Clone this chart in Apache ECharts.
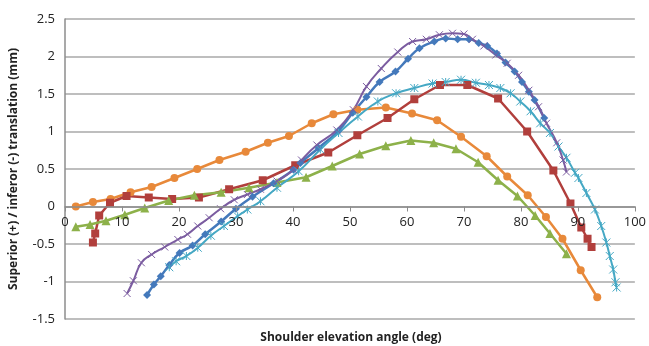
<!DOCTYPE html>
<html>
<head>
<meta charset="utf-8">
<script src="https://cdn.jsdelivr.net/npm/echarts@6/dist/echarts.min.js"></script>
<style>
  html, body { margin: 0; padding: 0; background: #fff; }
  #chart { width: 649px; height: 346px; }
</style>
</head>
<body>
<div id="chart"></div>
<script>
// shoulder elevation angle (deg) / translation (mm)
const orangePts = [[1.9,0],[4.9,0.06],[8.0,0.1],[11.5,0.19],[15.2,0.26],[19.2,0.38],[23.2,0.5],[27.1,0.62],[31.7,0.73],[35.6,0.85],[39.3,0.94],[43.3,1.11],[47.1,1.23],[51.3,1.29],[56.3,1.32],[60.9,1.24],[65.3,1.15],[69.5,0.93],[74.0,0.67],[77.6,0.40],[81.2,0.15],[84.4,-0.14],[87.3,-0.43],[90.5,-0.85],[93.4,-1.21]];
const redPts = [[4.9,-0.48],[5.3,-0.36],[6.0,-0.12],[7.9,0.05],[10.8,0.14],[14.7,0.12],[18.8,0.10],[23.5,0.12],[28.8,0.23],[34.7,0.35],[40.4,0.55],[46.2,0.72],[51.3,0.95],[56.6,1.18],[61.3,1.43],[65.8,1.62],[70.6,1.62],[76.0,1.44],[81.1,1.0],[85.7,0.48],[88.7,0.04],[90.6,-0.28],[91.7,-0.43],[92.4,-0.54]];
const greenPts = [[1.9,-0.27],[4.4,-0.24],[7.2,-0.19],[10.5,-0.11],[14.0,-0.02],[18.2,0.08],[22.7,0.15],[27.4,0.19],[32.3,0.25],[37.2,0.32],[42.3,0.39],[46.9,0.54],[51.7,0.70],[56.3,0.81],[60.7,0.88],[64.7,0.85],[68.6,0.77],[72.5,0.59],[76.0,0.35],[79.4,0.14],[82.5,-0.12],[85.1,-0.36],[88.0,-0.63]];
const purplePts = [[10.9,-1.16],[12.0,-0.99],[13.4,-0.75],[15.2,-0.64],[17.5,-0.54],[19.8,-0.44],[21.5,-0.37],[23.3,-0.26],[25.3,-0.15],[27.3,-0.03],[29.7,0.09],[32.0,0.16],[34.3,0.23],[37.2,0.34],[40.1,0.49],[41.5,0.62],[44.2,0.82],[47.7,1.02],[50.6,1.29],[52.9,1.6],[55.5,1.84],[58.4,2.06],[61.0,2.2],[63.4,2.23],[65.7,2.29],[68.0,2.31],[70.0,2.30],[71.5,2.23],[73.5,2.14],[75.6,2.02],[77.6,1.91],[79.6,1.75],[81.4,1.55],[83.1,1.33],[84.5,1.11],[86.3,0.85],[87.4,0.62],[88.0,0.46]];
const bluePts = [[14.4,-1.18],[15.6,-1.04],[16.8,-0.93],[18.3,-0.78],[20.1,-0.62],[22.4,-0.52],[24.6,-0.37],[27.4,-0.2],[30.0,-0.03],[32.9,0.13],[36.6,0.31],[40.1,0.49],[41.3,0.58],[44.5,0.78],[48.0,1.01],[50.5,1.25],[52.9,1.46],[55.2,1.66],[58.0,1.8],[60.2,1.97],[62.2,2.11],[64.8,2.2],[66.8,2.24],[68.9,2.23],[70.9,2.23],[72.6,2.18],[74.1,2.14],[75.8,2.04],[77.3,1.92],[78.9,1.80],[80.2,1.66],[81.4,1.53],[82.4,1.42],[84.1,1.18]];
const cyanPts = [[18.3,-0.81],[19.5,-0.73],[21.3,-0.66],[23.3,-0.55],[25.6,-0.39],[27.9,-0.26],[30.3,-0.13],[32.0,-0.04],[34.3,0.07],[37.2,0.25],[41.0,0.47],[44.8,0.76],[48.0,0.98],[51.4,1.2],[54.9,1.4],[58.1,1.51],[61.3,1.58],[64.5,1.64],[66.8,1.66],[69.5,1.69],[72.1,1.65],[74.4,1.62],[76.4,1.58],[78.2,1.51],[79.9,1.40],[81.7,1.27],[83.4,1.11],[85.1,0.98],[86.6,0.80],[88.0,0.65],[89.5,0.45],[90.1,0.38],[91.5,0.18],[93.0,-0.04],[94.1,-0.26],[95.0,-0.48],[95.6,-0.66],[96.2,-0.84],[96.6,-1.01],[96.8,-1.08]];

const xTicks = { min: 0, max: 100, interval: 10 };
const yTicks = { min: -1.5, max: 2.5, interval: 0.5 };

const FONT = 'Open Sans';
const GRID = { left: 63, right: 12, top: 19, bottom: 27 };
const PLOT_H = 346 - GRID.top - GRID.bottom;
// lift the x axis from the bottom edge up to y = 0
const xAxisOffset = -PLOT_H * (0 - yTicks.min) / (yTicks.max - yTicks.min);

const crossPath = 'path://M0,0L10,10M10,0L0,10';
const starPath = 'path://M0,0L10,10M10,0L0,10M5,0L5,10';

function lineSeries(name, data, color, symbol, size, smooth, width) {
  const hollow = symbol.indexOf('path://') === 0;
  return {
    name,
    type: 'line',
    data,
    smooth,
    symbol,
    symbolSize: size,
    showSymbol: true,
    lineStyle: { color, width },
    itemStyle: hollow
      ? { color: 'rgba(0,0,0,0)', borderColor: color, borderWidth: 1 }
      : { color, borderWidth: 0 },
    z: 2,
  };
}

const chart = echarts.init(document.getElementById('chart'), null, { renderer: 'canvas' });

chart.setOption({
  animation: false,
  backgroundColor: '#fff',
  grid: GRID,
  xAxis: {
    type: 'value',
    min: xTicks.min,
    max: xTicks.max,
    interval: xTicks.interval,
    position: 'bottom',
    offset: xAxisOffset,
    axisLine: { onZero: false, lineStyle: { color: '#8c8c8c', width: 1.5 } },
    axisTick: { show: true, inside: false, length: 5, lineStyle: { color: '#8c8c8c' } },
    axisLabel: { color: '#222', fontFamily: FONT, fontSize: 13, margin: 9 },
    splitLine: { show: false },
    z: 3,
  },
  yAxis: {
    type: 'value',
    min: yTicks.min,
    max: yTicks.max,
    interval: yTicks.interval,
    name: 'Superior (+) / inferor (-) translation (mm)',
    nameLocation: 'middle',
    nameGap: 45,
    nameTextStyle: { color: '#222', fontFamily: FONT, fontSize: 12, fontWeight: 'bold' },
    axisLine: { show: true, onZero: false, lineStyle: { color: '#8c8c8c', width: 1.5 } },
    axisTick: { show: false },
    axisLabel: { color: '#222', fontFamily: FONT, fontSize: 13, margin: 10 },
    splitLine: { show: true, lineStyle: { color: '#a9a9a9', width: 1.5 } },
  },
  graphic: [{
    type: 'text',
    x: 351,
    y: 338,
    style: {
      text: 'Shoulder elevation angle (deg)',
      fill: '#222',
      font: 'bold 12px "Open Sans"',
      textAlign: 'center',
      textVerticalAlign: 'middle',
    },
  }],
  series: [
    lineSeries('orange', orangePts, '#E8893A', 'circle', 8, false, 2.5),
    lineSeries('red', redPts, '#B13F3C', 'rect', 8, false, 2.5),
    lineSeries('green', greenPts, '#8DB14A', 'triangle', 9, false, 2.5),
    lineSeries('blue', bluePts, '#4479BB', 'diamond', 8, true, 2.5),
    lineSeries('cyan', cyanPts, '#45A8C4', starPath, 8, true, 2),
    lineSeries('purple', purplePts, '#7B5CA0', crossPath, 7, true, 2),
  ],
});
</script>
</body>
</html>
